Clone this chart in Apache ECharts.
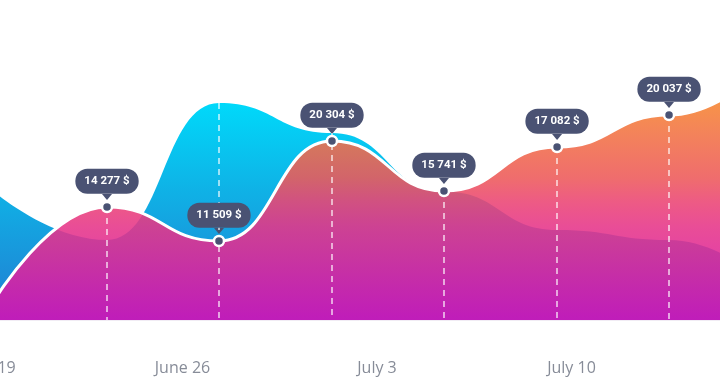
<!DOCTYPE html>
<html>
<head>
<meta charset="utf-8">
<script src="https://cdn.jsdelivr.net/npm/echarts@6/dist/echarts.min.js"></script>
<style>
  html, body { margin: 0; padding: 0; background: #ffffff; }
  #chart { width: 720px; height: 391px; }
</style>
</head>
<body>
<div id="chart"></div>
<script>
// x positions in days since June 19
const xDays = [0.234, 4.283, 8.313, 12.38, 16.41, 20.48, 24.51, 28.56];
// front (revenue) curve heights
const revenue = [2.0, 11.3, 7.9, 17.9, 12.9, 17.3, 20.5, 26.8];
// back (cyan) curve heights
const baseline = [12.8, 8.0, 21.7, 18.7, 12.85, 9.0, 8.0, 2.5];
// bubble labels for each point
const pointLabels = ['', '14 277 $', '11 509 $', '20 304 $', '15 741 $', '17 082 $', '20 037 $', ''];
// x-axis tick labels (every 7 days from June 19)
const tickLabels = ['June 19', 'June 26', 'July 3', 'July 10', 'July 17'];

const chart = echarts.init(document.getElementById('chart'), null, { renderer: 'canvas' });

const frontData = xDays.map((x, i) => [x, revenue[i]]);
const backData = xDays.map((x, i) => [x, baseline[i]]);
const labelled = xDays.map((x, i) => i).filter(i => pointLabels[i] !== '');
const markerData = labelled.map(i => ({ value: [xDays[i], revenue[i]], name: pointLabels[i] }));
const dashData = labelled.map(i => [
  { coord: [xDays[i], Math.max(revenue[i], baseline[i])] },
  { coord: [xDays[i], 0] }
]);

const DARK = '#4a5273';

chart.setOption({
  animation: false,
  backgroundColor: '#ffffff',
  grid: { left: -12, right: 0, top: 0, bottom: 71, containLabel: false, outerBoundsMode: 'none' },
  xAxis: {
    type: 'value',
    min: 0,
    max: 26.344,
    interval: 7,
    axisLine: { show: true, lineStyle: { color: '#f1ecf4', width: 1 } },
    axisTick: { show: false },
    splitLine: { show: false },
    axisLabel: {
      showMaxLabel: false,
      showMinLabel: true,
      hideOverlap: false,
      margin: 40,
      color: '#878c98',
      fontSize: 16,
      fontFamily: 'Open Sans',
      formatter: function (v) {
        const k = Math.round(v / 7);
        return Math.abs(v - k * 7) < 1e-6 ? (tickLabels[k] || '') : '';
      }
    }
  },
  yAxis: {
    type: 'value',
    min: 0,
    max: 32,
    show: false
  },
  series: [
    {
      type: 'line',
      data: backData,
      smooth: 0.5,
      smoothMonotone: 'x',
      symbol: 'none',
      z: 1,
      lineStyle: { width: 0 },
      areaStyle: {
        opacity: 1,
        color: new echarts.graphic.LinearGradient(0, 0, 0, 1, [
          { offset: 0, color: '#00d9fa' },
          { offset: 0.4, color: '#0fb2e6' },
          { offset: 0.86, color: '#1e88d6' },
          { offset: 1, color: '#2280d4' }
        ])
      }
    },
    {
      type: 'line',
      data: frontData,
      smooth: 0.5,
      smoothMonotone: 'x',
      symbol: 'none',
      z: 2,
      lineStyle: { color: '#ffffff', width: 3 },
      areaStyle: {
        opacity: 0.88,
        color: new echarts.graphic.LinearGradient(0, 0, 0, 1, [
          { offset: 0, color: '#f99a1c' },
          { offset: 0.15, color: '#f78a2a' },
          { offset: 0.3, color: '#f27343' },
          { offset: 0.47, color: '#ed5959' },
          { offset: 0.56, color: '#eb4474' },
          { offset: 0.65, color: '#e63588' },
          { offset: 1, color: '#d50fb6' }
        ])
      },
      markLine: {
        silent: true,
        symbol: ['none', 'none'],
        label: { show: false },
        lineStyle: { color: 'rgba(255,255,255,0.8)', type: [6, 5], width: 1.5 },
        data: dashData
      }
    },
    {
      type: 'scatter',
      data: markerData.map(d => d.value),
      symbol: 'path://M0,0 L10,0 L5,6 Z',
      symbolSize: [10, 6],
      symbolOffset: [0, -10],
      itemStyle: { color: DARK, opacity: 1 },
      z: 4,
      silent: true
    },
    {
      type: 'scatter',
      data: markerData,
      symbol: 'circle',
      symbolSize: 10,
      itemStyle: { color: DARK, opacity: 1, borderColor: '#ffffff', borderWidth: 2.5 },
      z: 5,
      silent: true,
      label: {
        show: true,
        position: 'top',
        distance: 7,
        opacity: 1,
        formatter: function (p) { return p.name; },
        backgroundColor: DARK,
        borderRadius: 12,
        padding: [6, 9, 6, 9],
        color: '#ffffff',
        fontSize: 11.5,
        lineHeight: 13,
        fontWeight: 'bold',
        fontFamily: 'Roboto'
      }
    }
  ]
});
</script>
</body>
</html>
